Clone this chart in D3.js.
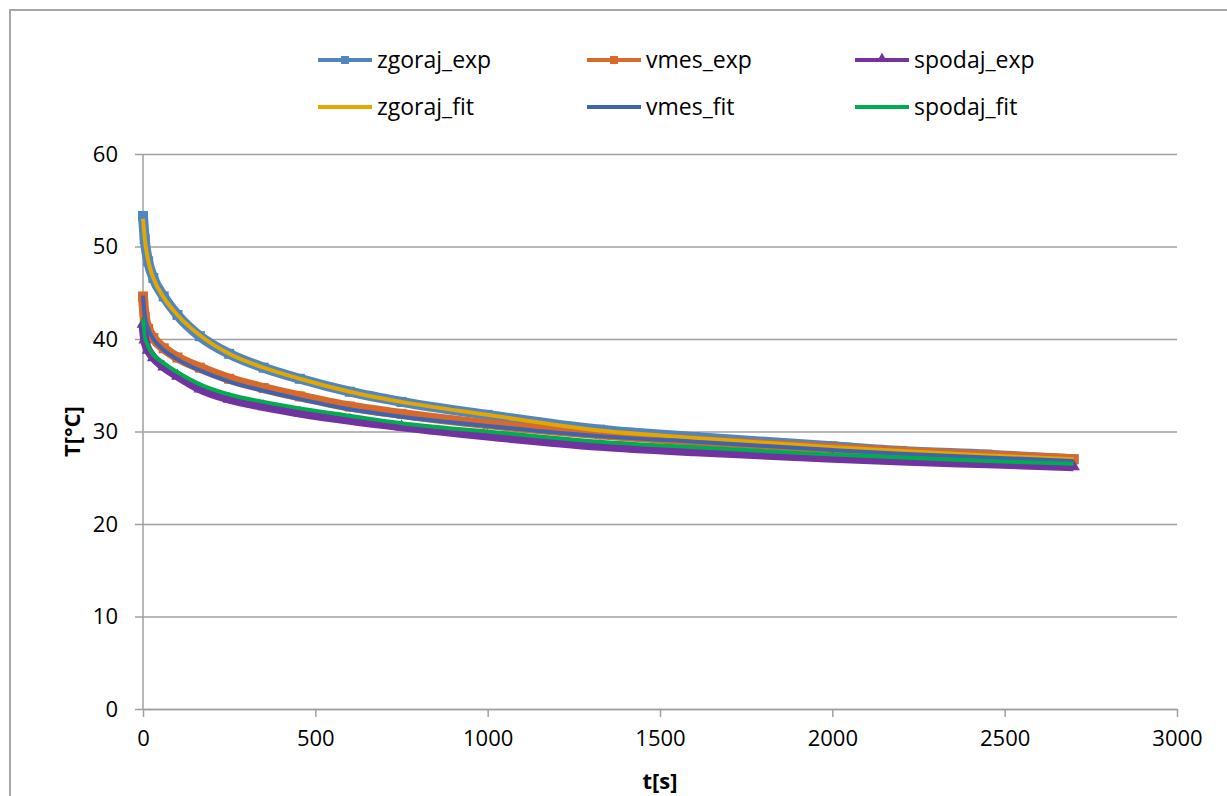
<!DOCTYPE html>
<html lang="en">
<head>
    <meta charset="utf-8">
    <script src="https://cdn.jsdelivr.net/npm/d3@7"></script>
    <style>
        body { margin: 0; background: #fff; }
        text { font-family: "Open Sans", "Noto Sans", sans-serif; fill: #000; }
    </style>
</head>

<body>
<div id="svg"></div>

<script>
    // time points (s)
    var tValues = [0, 5, 15, 30, 60, 100, 165, 250, 350, 455, 600, 750, 1000, 1326, 1600, 2000, 2200, 2450, 2700];

    var zgorajExp = [53.3, 50.8, 48.4, 46.6, 44.6, 42.6, 40.3, 38.4, 36.9, 35.7, 34.3, 33.2, 31.8, 30.2, 29.4, 28.4, 27.9, 27.5, 27.0];
    var vmesExp   = [44.6, 42.4, 41.1, 40.1, 39.0, 38.0, 36.9, 35.7, 34.7, 33.8, 32.7, 31.9, 30.8, 29.7, 29.0, 28.2, 27.8, 27.4, 27.0];
    var spodajExp = [41.6, 39.9, 38.8, 38.0, 37.0, 36.0, 34.6, 33.5, 32.7, 32.0, 31.2, 30.5, 29.5, 28.4, 27.8, 27.1, 26.8, 26.5, 26.2];
    var zgorajFit = [53.0, 50.9, 48.5, 46.6, 44.5, 42.6, 40.4, 38.4, 36.9, 35.7, 34.3, 33.2, 31.8, 30.1, 29.3, 28.3, 27.9, 27.4, 27.0];
    var vmesFit   = [44.7, 42.5, 41.1, 40.0, 38.8, 37.8, 36.6, 35.4, 34.4, 33.5, 32.4, 31.6, 30.6, 29.5, 28.9, 28.0, 27.6, 27.2, 26.8];
    var spodajFit = [42.2, 40.3, 39.2, 38.3, 37.4, 36.4, 35.1, 34.0, 33.2, 32.5, 31.7, 30.9, 30.0, 28.9, 28.3, 27.5, 27.2, 26.8, 26.5];

    var xTicks = [0, 500, 1000, 1500, 2000, 2500, 3000];
    var yTicks = [0, 10, 20, 30, 40, 50, 60];

    var series = [
        {name: "zgoraj_exp", values: zgorajExp, color: "#4f86c0", width: 10, marker: "square"},
        {name: "vmes_exp",   values: vmesExp,   color: "#d7692b", width: 10, marker: "square"},
        {name: "spodaj_exp", values: spodajExp, color: "#7232a0", width: 9, marker: "triangle"},
        {name: "zgoraj_fit", values: zgorajFit, color: "#e3a700", width: 4, marker: null},
        {name: "vmes_fit",   values: vmesFit,   color: "#3f63ae", width: 4, marker: null},
        {name: "spodaj_fit", values: spodajFit, color: "#00ad4e", width: 4, marker: null}
    ];

    var margin = {top: 154, right: 50, bottom: 87, left: 143},
      width = 1227 - margin.left - margin.right,
      height = 796 - margin.top - margin.bottom;

    var svg = d3.select("#svg").append("svg")
        .attr("width", 1227)
        .attr("height", 796);

    // outer chart frame (runs off the picture right and bottom)
    svg.append("rect")
        .attr("x", 10).attr("y", 10)
        .attr("width", 1400).attr("height", 1000)
        .style("fill", "none")
        .style("stroke", "#a6a6a6")
        .style("stroke-width", 2);

    var g = svg.append("g")
        .attr("transform", "translate(" + margin.left + "," + margin.top + ")");

    var x = d3.scaleLinear().domain([0, 3000]).range([0, width]);
    var y = d3.scaleLinear().domain([0, 60]).range([height, 0]);

    // horizontal gridlines + y ticks
    var yAxis = g.append("g")
        .call(d3.axisLeft(y).tickValues(yTicks).tickSize(-width).tickSizeOuter(0).tickPadding(25));
    yAxis.select(".domain").remove();
    yAxis.selectAll(".tick line")
        .attr("x1", -8)
        .style("stroke", "#a0a0a0").style("stroke-width", 1.5);
    yAxis.selectAll(".tick text")
        .style("font-size", "22px");

    // x axis
    var xAxis = g.append("g")
        .attr("transform", "translate(0," + height + ")")
        .call(d3.axisBottom(x).tickValues(xTicks).tickFormat(d3.format("d"))
            .tickSize(8).tickSizeOuter(0).tickPadding(13));
    xAxis.select(".domain").style("stroke", "#a0a0a0").style("stroke-width", 1.5);
    xAxis.selectAll(".tick line").style("stroke", "#a0a0a0").style("stroke-width", 1.5);
    xAxis.selectAll(".tick text").style("font-size", "22px");

    // y axis line
    g.append("line")
        .attr("x1", 0).attr("x2", 0)
        .attr("y1", 0).attr("y2", height)
        .style("stroke", "#a0a0a0").style("stroke-width", 1.5);

    // axis titles
    svg.append("text")
        .attr("x", margin.left + width / 2)
        .attr("y", 789)
        .attr("text-anchor", "middle")
        .style("font-size", "22px").style("font-weight", "bold")
        .text("t[s]");

    svg.append("text")
        .attr("transform", "translate(80," + (margin.top + height / 2) + ") rotate(-90)")
        .attr("text-anchor", "middle")
        .style("font-size", "22px").style("font-weight", "bold")
        .text("T[°C]");

    var line = d3.line()
        .x(function(d){ return x(d[0]); })
        .y(function(d){ return y(d[1]); })
        .curve(d3.curveMonotoneX);

    var triangle = d3.symbol().type(d3.symbolTriangle).size(70);

    series.forEach(function(s){
        var pts = tValues.map(function(t, i){ return [t, s.values[i]]; });
        g.append("path")
            .datum(pts)
            .attr("d", line)
            .style("fill", "none")
            .style("stroke", s.color)
            .style("stroke-width", s.width)
            .style("stroke-linejoin", "round");

        if (s.marker === "square") {
            g.selectAll(null)
                .data(pts)
            .enter().append("rect")
                .attr("x", function(d){ return x(d[0]) - 5; })
                .attr("y", function(d){ return y(d[1]) - 5; })
                .attr("width", 10).attr("height", 10)
                .style("fill", s.color);
        } else if (s.marker === "triangle") {
            g.selectAll(null)
                .data(pts)
            .enter().append("path")
                .attr("d", triangle)
                .attr("transform", function(d){ return "translate(" + x(d[0]) + "," + y(d[1]) + ")"; })
                .style("fill", s.color);
        }
    });

    // legend: 2 rows x 3 columns
    var legendCols = [318, 587, 855],
        legendRows = [60, 107];

    var legend = svg.selectAll(".legend")
        .data(series)
    .enter().append("g")
        .attr("class", "legend")
        .attr("transform", function(d, i){
            return "translate(" + legendCols[i % 3] + "," + legendRows[Math.floor(i / 3)] + ")";
        });

    legend.append("line")
        .attr("x1", 0).attr("x2", 54)
        .attr("y1", 0).attr("y2", 0)
        .style("stroke", function(d){ return d.color; })
        .style("stroke-width", 4);

    legend.filter(function(d){ return d.marker === "square"; })
        .append("rect")
        .attr("x", 23).attr("y", -4)
        .attr("width", 8).attr("height", 8)
        .style("fill", function(d){ return d.color; });

    legend.filter(function(d){ return d.marker === "triangle"; })
        .append("path")
        .attr("d", d3.symbol().type(d3.symbolTriangle).size(50))
        .attr("transform", "translate(27,-1)")
        .style("fill", function(d){ return d.color; });

    legend.append("text")
        .attr("x", 59)
        .attr("y", 0)
        .attr("dy", "0.35em")
        .style("font-size", "23px")
        .text(function(d){ return d.name; });
</script>
</body>
</html>
